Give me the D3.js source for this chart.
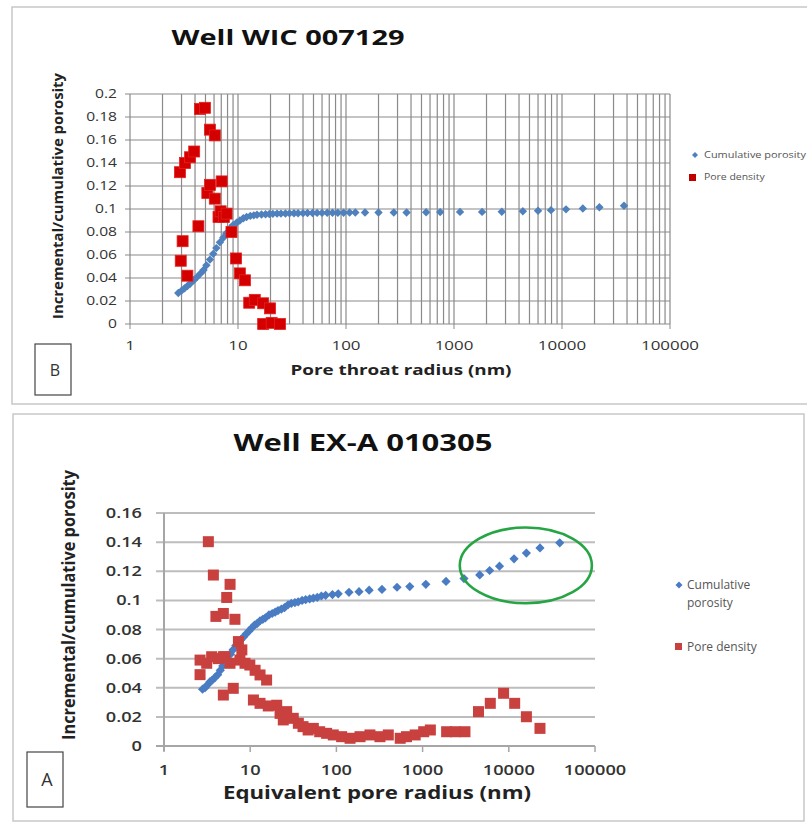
<!DOCTYPE html>
<html><head><meta charset="utf-8">
<script src="https://cdn.jsdelivr.net/npm/d3@7"></script>
<style>body{margin:0;background:#fff}svg{display:block}</style>
</head><body>
<svg id="c" width="807" height="823"></svg>
<script>
// ---------- DATA ----------
const xTickLabels = ["1","10","100","1000","10000","100000"];
const xTickValues = [1,10,100,1000,10000,100000];
const topYTicks = [0,0.02,0.04,0.06,0.08,0.1,0.12,0.14,0.16,0.18,0.2];
const topYLabels = ["0","0.02","0.04","0.06","0.08","0.1","0.12","0.14","0.16","0.18","0.2"];
const botYTicks = [0,0.02,0.04,0.06,0.08,0.1,0.12,0.14,0.16];
const botYLabels = ["0","0.02","0.04","0.06","0.08","0.1","0.12","0.14","0.16"];
const seriesNames = ["Cumulative porosity","Pore density"];

// Well WIC 007129 (B)
const topCumR = [2.8,3.0,3.2,3.4,3.6,3.9,4.2,4.5,4.8,5.1,5.5,5.9,6.3,6.8,7.3,7.8,8.4,9.0,9.7,10.4,11.2,12,13,14,15,16.5,18,19.5,21,23,25,27.5,30,33,36,40,44,49,54,60,67,75,84,95,108,122,
  150,200,277,364,552,745,1137,1820,2770,4340,6000,7900,10900,15600,22200,37500];
const topCumV = [0.027,0.029,0.031,0.033,0.035,0.038,0.041,0.044,0.047,0.051,0.056,0.061,0.066,0.071,0.075,0.079,0.083,0.086,0.088,0.090,0.092,0.093,0.094,0.0945,0.095,0.0952,0.0955,0.0957,0.0958,0.096,0.096,0.0961,0.0962,0.0963,0.0963,0.0964,0.0965,0.0965,0.0966,0.0966,0.0967,0.0967,0.0968,0.0968,0.0969,0.097,
  0.097,0.097,0.097,0.097,0.0972,0.0973,0.0975,0.0975,0.0976,0.098,0.0985,0.099,0.0997,0.1005,0.1015,0.1028];
const topDenR = [2.9,2.95,3.07,3.23,3.4,3.6,3.93,4.3,4.45,4.94,5.2,5.5,5.5,6.1,6.1,6.6,6.9,7.06,7.4,7.85,8.7,9.6,10.4,11.6,12.7,14.3,17.1,17.1,19.8,20.5,24.5];
const topDenV = [0.132,0.055,0.072,0.14,0.042,0.145,0.15,0.085,0.187,0.188,0.114,0.121,0.169,0.109,0.164,0.093,0.098,0.124,0.093,0.096,0.08,0.057,0.044,0.038,0.0185,0.021,0.018,0,0.0136,0.001,0];

// Well EX-A 010305 (A)
const botCumR = [2.8,3.0,3.2,3.4,3.6,3.9,4.2,4.5,4.8,5.1,5.5,5.9,6.3,6.8,7.3,7.8,8.4,9.0,9.7,10.4,11.2,12,13,14,15,16.5,18,19.5,21,23,25,27.5,30,33,36,40,44,49,54,60,67,75,
  90,105,140,183,240,338,505,710,1090,1870,3020,4600,6000,7800,11500,16000,23000,39000];
const botCumV = [0.039,0.040,0.042,0.044,0.045,0.047,0.049,0.052,0.055,0.057,0.060,0.063,0.066,0.069,0.071,0.073,0.075,0.077,0.079,0.081,0.083,0.084,0.086,0.087,0.088,0.090,0.091,0.092,0.093,0.094,0.095,0.097,0.098,0.0985,0.099,0.100,0.1005,0.101,0.1015,0.102,0.103,0.1035,
  0.104,0.1045,0.1055,0.106,0.107,0.1075,0.109,0.1095,0.111,0.113,0.115,0.1175,0.1205,0.1235,0.1285,0.1325,0.136,0.1395];
const botDenR = [2.62,2.62,3.13,3.27,3.57,3.74,4.0,4.26,4.88,4.88,4.88,5.1,5.34,5.83,5.84,6.36,6.65,7.3,7.6,8.0,8.7,9.9,10.9,11.4,13,13,15.5,16.2,20.3,22.2,24.2,26.5,31.6,36.2,41,47,54,64,77,92,115,144,188,245,320,400,550,650,820,1030,1230,1900,2400,3100,4450,6100,8700,11700,16000,23000];
const botDenV = [0.059,0.049,0.0568,0.1403,0.0613,0.1174,0.089,0.060,0.091,0.035,0.0613,0.0613,0.102,0.0568,0.111,0.0396,0.087,0.0717,0.059,0.066,0.0568,0.0556,0.0316,0.052,0.0488,0.0293,0.0453,0.0275,0.028,0.0224,0.0179,0.0236,0.019,0.0156,0.0133,0.011,0.0121,0.0098,0.0087,0.0076,0.0064,0.0053,0.0064,0.0076,0.0064,0.0076,0.0053,0.0064,0.0076,0.0098,0.011,0.0098,0.0098,0.0098,0.0236,0.0293,0.0362,0.0293,0.0201,0.0121];

// highlighted region (green ellipse) in data units
const highlightR = [2700, 92000];
const highlightV = [0.098, 0.150];

// ---------- DRAW ----------
const svg = d3.select("#c");
const FONT = "'Open Sans','Liberation Sans',Arial,sans-serif";

// panel frames
svg.append("rect").attr("x",12).attr("y",7).attr("width",820).attr("height",397)
  .attr("fill","none").attr("stroke","#c8c8c8").attr("stroke-width",1.5);
svg.append("rect").attr("x",13).attr("y",414).attr("width",791).attr("height",407)
  .attr("fill","none").attr("stroke","#c8c8c8").attr("stroke-width",1.5);

function stretchText(sel, k){
  sel.each(function(){
    const w = this.getComputedTextLength();
    d3.select(this).attr("textLength", w*k).attr("lengthAdjust","spacingAndGlyphs");
  });
}
function fitText(sel, len){
  sel.attr("textLength", len).attr("lengthAdjust","spacingAndGlyphs");
}
function diamondPath(h){ return `M0,${-h}L${h},0L0,${h}L${-h},0Z`; }

// ===== TOP CHART =====
(function(){
  const x = d3.scaleLog().domain([1,100000]).range([130,670]);
  const y = d3.scaleLinear().domain([0,0.2]).range([324,94]);
  const g = svg.append("g");
  const vg = [];
  for (let d=1; d<100000; d*=10) for (let k=1;k<10;k++) vg.push(k*d);
  vg.push(100000);
  g.selectAll("line.vg").data(vg).join("line")
    .attr("x1",d=>x(d)).attr("x2",d=>x(d)).attr("y1",y(0.2)).attr("y2",y(0))
    .attr("stroke","#8a8a8a").attr("stroke-width",1.2);
  g.selectAll("line.hg").data(topYTicks).join("line")
    .attr("x1",125).attr("x2",x(100000)).attr("y1",d=>y(d)).attr("y2",d=>y(d))
    .attr("stroke","#8a8a8a").attr("stroke-width",1.2);
  g.selectAll("line.xt").data(xTickValues).join("line")
    .attr("x1",d=>x(d)).attr("x2",d=>x(d)).attr("y1",y(0)).attr("y2",y(0)+5)
    .attr("stroke","#8a8a8a");
  g.selectAll("text.yl").data(topYTicks).join("text")
    .attr("x",117).attr("y",d=>y(d)+4).attr("text-anchor","end")
    .attr("font-family",FONT).attr("font-size",12).attr("fill","#333")
    .text((d,i)=>topYLabels[i]).call(stretchText,1.3);
  g.selectAll("text.xl").data(xTickValues).join("text")
    .attr("x",d=>x(d)).attr("y",350).attr("text-anchor","middle")
    .attr("font-family",FONT).attr("font-size",13).attr("fill","#333")
    .text((d,i)=>xTickLabels[i]).call(stretchText,1.3);
  const cum = topCumR.map((r,i)=>[r,topCumV[i]]);
  const den = topDenR.map((r,i)=>[r,topDenV[i]]);
  g.selectAll("path.cum").data(cum).join("path")
    .attr("transform",d=>`translate(${x(d[0])},${y(d[1])})`)
    .attr("d",diamondPath(4.2)).attr("fill","#4f81bd");
  g.selectAll("rect.den").data(den).join("rect")
    .attr("x",d=>x(d[0])-5.5).attr("y",d=>y(d[1])-5.5).attr("width",11).attr("height",11)
    .attr("fill","#d40000").attr("stroke","#e52020").attr("stroke-width",0.8);
  svg.append("text").attr("x",288).attr("y",45).attr("text-anchor","middle")
    .attr("font-family",FONT).attr("font-weight","bold").attr("font-size",22).attr("fill","#111")
    .text("Well WIC 007129").call(fitText,233);
  svg.append("text").attr("x",401).attr("y",375).attr("text-anchor","middle")
    .attr("font-family",FONT).attr("font-weight","bold").attr("font-size",15).attr("fill","#222")
    .text("Pore throat radius (nm)").call(fitText,221);
  svg.append("text").attr("transform","translate(63,196) rotate(-90)").attr("text-anchor","middle")
    .attr("font-family",FONT).attr("font-weight","bold").attr("font-size",15).attr("fill","#222")
    .text("Incremental/cumulative porosity").call(fitText,246);
  const lg = svg.append("g");
  lg.append("path").attr("transform","translate(695,155)").attr("d",diamondPath(3)).attr("fill","#4f81bd");
  lg.append("text").attr("x",704).attr("y",158).attr("font-family",FONT).attr("font-size",9.5).attr("fill","#555")
    .text(seriesNames[0]).call(stretchText,1.15);
  lg.append("rect").attr("x",689).attr("y",174).attr("width",7).attr("height",7).attr("fill","#c00000");
  lg.append("text").attr("x",704).attr("y",180).attr("font-family",FONT).attr("font-size",9.5).attr("fill","#555")
    .text(seriesNames[1]).call(stretchText,1.1);
  svg.append("rect").attr("x",35).attr("y",344).attr("width",36).attr("height",51)
    .attr("fill","#fff").attr("stroke","#444").attr("stroke-width",1.2);
  svg.append("text").attr("x",55).attr("y",376).attr("text-anchor","middle")
    .attr("font-family",FONT).attr("font-size",16).attr("fill","#333").text("B");
})();

// ===== BOTTOM CHART =====
(function(){
  const x = d3.scaleLog().domain([1,100000]).range([164,595]);
  const y = d3.scaleLinear().domain([0,0.16]).range([746,513]);
  const g = svg.append("g");
  g.selectAll("line.hg").data(botYTicks.slice(1)).join("line")
    .attr("x1",156).attr("x2",x(100000)).attr("y1",d=>y(d)).attr("y2",d=>y(d))
    .attr("stroke","#bdbdbd").attr("stroke-width",2);
  g.append("line").attr("x1",156).attr("x2",x(100000)).attr("y1",y(0)).attr("y2",y(0))
    .attr("stroke","#a6a6a6").attr("stroke-width",2);
  g.append("line").attr("x1",x(1)).attr("x2",x(1)).attr("y1",y(0.16)).attr("y2",y(0)+5)
    .attr("stroke","#a6a6a6").attr("stroke-width",2);
  g.selectAll("line.xt").data(xTickValues).join("line")
    .attr("x1",d=>x(d)).attr("x2",d=>x(d)).attr("y1",y(0)).attr("y2",y(0)+6)
    .attr("stroke","#a6a6a6").attr("stroke-width",1.5);
  g.selectAll("text.yl").data(botYTicks).join("text")
    .attr("x",142).attr("y",d=>y(d)+5).attr("text-anchor","end")
    .attr("font-family",FONT).attr("font-weight",600).attr("font-size",14).attr("fill","#333")
    .text((d,i)=>botYLabels[i]).call(stretchText,1.3);
  g.selectAll("text.xl").data(xTickValues).join("text")
    .attr("x",d=>x(d)).attr("y",775).attr("text-anchor","middle")
    .attr("font-family",FONT).attr("font-weight",600).attr("font-size",14).attr("fill","#333")
    .text((d,i)=>xTickLabels[i]).call(stretchText,1.3);
  const cum = botCumR.map((r,i)=>[r,botCumV[i]]);
  const den = botDenR.map((r,i)=>[r,botDenV[i]]);
  g.selectAll("path.cum").data(cum).join("path")
    .attr("transform",d=>`translate(${x(d[0])},${y(d[1])})`)
    .attr("d",diamondPath(4.6)).attr("fill","#4a7cc4");
  g.selectAll("rect.den").data(den).join("rect")
    .attr("x",d=>x(d[0])-5.5).attr("y",d=>y(d[1])-5.5).attr("width",11).attr("height",11)
    .attr("fill","#c9413f");
  const cx = (x(highlightR[0])+x(highlightR[1]))/2, cy = (y(highlightV[0])+y(highlightV[1]))/2;
  g.append("ellipse").attr("cx",cx).attr("cy",cy)
    .attr("rx",(x(highlightR[1])-x(highlightR[0]))/2).attr("ry",(y(highlightV[0])-y(highlightV[1]))/2)
    .attr("fill","none").attr("stroke","#26a544").attr("stroke-width",2.6);
  svg.append("text").attr("x",363).attr("y",451).attr("text-anchor","middle")
    .attr("font-family",FONT).attr("font-weight","bold").attr("font-size",23).attr("fill","#111")
    .text("Well EX-A 010305").call(fitText,259);
  svg.append("text").attr("x",377).attr("y",799).attr("text-anchor","middle")
    .attr("font-family",FONT).attr("font-weight","bold").attr("font-size",18).attr("fill","#222")
    .text("Equivalent pore radius (nm)").call(fitText,308);
  svg.append("text").attr("transform","translate(75,605) rotate(-90)").attr("text-anchor","middle")
    .attr("font-family",FONT).attr("font-weight","bold").attr("font-size",17).attr("fill","#222")
    .text("Incremental/cumulative porosity").call(fitText,270);
  const lg = svg.append("g");
  lg.append("path").attr("transform","translate(679,585)").attr("d",diamondPath(3.5)).attr("fill","#4a7cc4");
  lg.append("text").attr("x",687).attr("y",589).attr("font-family",FONT).attr("font-size",12).attr("fill","#555")
    .text("Cumulative");
  lg.append("text").attr("x",687).attr("y",607).attr("font-family",FONT).attr("font-size",12).attr("fill","#555")
    .text("porosity");
  lg.append("rect").attr("x",675).attr("y",643).attr("width",7).attr("height",7).attr("fill","#c9413f");
  lg.append("text").attr("x",687).attr("y",651).attr("font-family",FONT).attr("font-size",12).attr("fill","#555")
    .text(seriesNames[1]);
  svg.append("rect").attr("x",27).attr("y",752).attr("width",36).attr("height",55)
    .attr("fill","#fff").attr("stroke","#444").attr("stroke-width",1.2);
  svg.append("text").attr("x",47).attr("y",786).attr("text-anchor","middle")
    .attr("font-family",FONT).attr("font-size",18).attr("fill","#333").text("A");
})();
</script>
</body></html>
